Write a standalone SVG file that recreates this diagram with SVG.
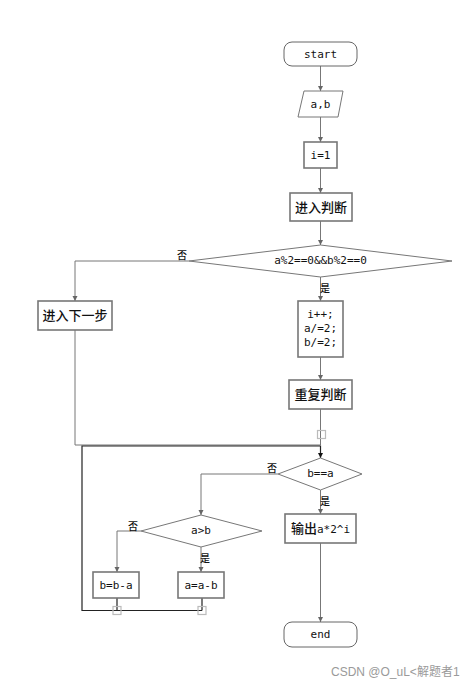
<svg xmlns="http://www.w3.org/2000/svg" width="465" height="687" viewBox="0 0 465 687">
<defs>
<marker id="arr" markerWidth="6" markerHeight="6" refX="5" refY="3" orient="auto" markerUnits="userSpaceOnUse">
<path d="M0,0.5 L5,3 L0,5.5 z" fill="#666"/>
</marker>
<marker id="arrb" markerWidth="6" markerHeight="6" refX="5" refY="3" orient="auto" markerUnits="userSpaceOnUse">
<path d="M0,0.5 L5,3 L0,5.5 z" fill="#111"/>
</marker>
<style>
.box{fill:#fff;stroke:#777;stroke-width:1.6}
.term{fill:#fff;stroke:#666;stroke-width:1}
.dia{fill:#fff;stroke:#777;stroke-width:1}
.ln{fill:none;stroke:#777;stroke-width:1}
.blk{fill:none;stroke:#222;stroke-width:1.2}
.sq{fill:none;stroke:#bbb;stroke-width:1.2}
.code{font-family:"DejaVu Sans Mono","Liberation Mono",monospace;font-size:11px;fill:#111;text-anchor:middle}
.cn{font-family:"Noto Sans CJK SC",sans-serif;font-size:13px;font-weight:500;fill:#111;text-anchor:middle}
.lbl{font-family:"Noto Sans CJK SC",sans-serif;font-size:10px;font-weight:500;fill:#111;text-anchor:middle}
.wm{font-family:"Liberation Sans","Noto Sans CJK SC",sans-serif;font-size:12px;fill:#9a9a9a}
</style>
</defs>
<rect width="465" height="687" fill="#fff"/>
<g id="connectors">
<path class="ln" d="M320.5,66 V91" marker-end="url(#arr)"/>
<path class="ln" d="M320.5,117 V142" marker-end="url(#arr)"/>
<path class="ln" d="M320.5,168 V193" marker-end="url(#arr)"/>
<path class="ln" d="M320.5,221 V245" marker-end="url(#arr)"/>
<path class="ln" d="M320.5,277 V301" marker-end="url(#arr)"/>
<path class="ln" d="M189,261 H75 V301" marker-end="url(#arr)"/>
<path class="ln" d="M320.5,357 V380" marker-end="url(#arr)"/>
<path class="ln" d="M320.5,409 V445"/>
<path class="ln" d="M75,330 V445 H320.5"/>
<path class="blk" d="M117,598 V610.5 M202,598 V610.5 M202,610.5 H82 V446 H320.5 V458" marker-end="url(#arrb)"/>
<path class="ln" d="M278,474 H201 V515" marker-end="url(#arr)"/>
<path class="ln" d="M320.5,490 V514" marker-end="url(#arr)"/>
<path class="ln" d="M320.5,543 V622" marker-end="url(#arr)"/>
<path class="ln" d="M141,531 H117 V572" marker-end="url(#arr)"/>
<path class="ln" d="M201,547 V572" marker-end="url(#arr)"/>
<rect class="sq" x="317.5" y="430.5" width="8" height="8"/>
<rect class="sq" x="113" y="606.5" width="8" height="8"/>
<rect class="sq" x="198" y="606.5" width="8" height="8"/>
<text class="lbl" x="182" y="259">否</text>
<text class="lbl" x="325" y="292">是</text>
<text class="lbl" x="272" y="472">否</text>
<text class="lbl" x="325" y="505">是</text>
<text class="lbl" x="133" y="530">否</text>
<text class="lbl" x="205" y="562">是</text>
</g>
<g id="start"><rect class="term" x="284" y="42" width="73" height="24" rx="8"/><text class="code" x="320.5" y="58">start</text></g>
<g id="input"><polygon class="dia" points="304,91 343,91 338,117 298,117"/><text class="code" x="320.5" y="108">a,b</text></g>
<g id="init"><rect class="box" x="304" y="142" width="33" height="26"/><text class="code" x="320.5" y="159">i=1</text></g>
<g id="judge1"><rect class="box" x="290" y="193" width="62" height="28"/><text class="cn" x="321" y="212">进入判断</text></g>
<g id="cond1"><polygon class="dia" points="320.5,245 452,261 320.5,277 189,261"/><text class="code" x="320.5" y="264">a%2==0&amp;&amp;b%2==0</text></g>
<g id="next"><rect class="box" x="38" y="301" width="74" height="29"/><text class="cn" x="75" y="320">进入下一步</text></g>
<g id="halve"><rect class="box" x="298" y="301" width="45" height="56"/><text class="code" x="320.5" y="318">i++;</text><text class="code" x="320.5" y="332">a/=2;</text><text class="code" x="320.5" y="346">b/=2;</text></g>
<g id="repeat"><rect class="box" x="289" y="380" width="63" height="29"/><text class="cn" x="320.5" y="399">重复判断</text></g>
<g id="cond2"><polygon class="dia" points="320.5,458 362,474 320.5,490 278,474"/><text class="code" x="320.5" y="477">b==a</text></g>
<g id="output"><rect class="box" x="285" y="514" width="71" height="29"/><text class="cn" x="320.5" y="533">输出<tspan font-family="DejaVu Sans Mono, monospace" font-size="11px" font-weight="400">a*2^i</tspan></text></g>
<g id="cond3"><polygon class="dia" points="201,515 262,531 201,547 141,531"/><text class="code" x="201" y="534">a&gt;b</text></g>
<g id="subb"><rect class="box" x="93" y="572" width="46" height="26"/><text class="code" x="116" y="589">b=b-a</text></g>
<g id="suba"><rect class="box" x="178" y="572" width="46" height="26"/><text class="code" x="201" y="589">a=a-b</text></g>
<g id="end"><rect class="term" x="284" y="622" width="73" height="25" rx="8"/><text class="code" x="320.5" y="638">end</text></g>
<text class="wm" x="331" y="676">CSDN @O_uL&lt;解题者1</text>
</svg>
